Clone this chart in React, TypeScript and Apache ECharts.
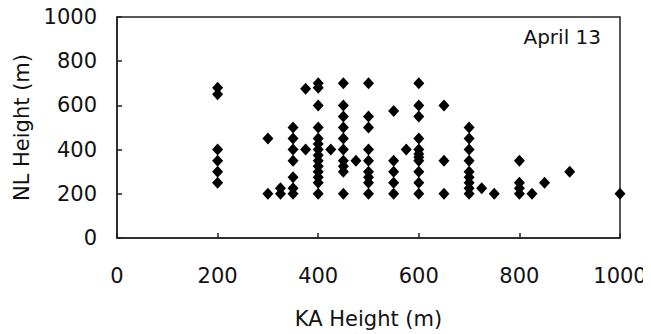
import React, { useEffect, useRef } from "react";
import * as echarts from "echarts";

const xTicks = [0, 200, 400, 600, 800, 1000];
const yTicks = [0, 200, 400, 600, 800, 1000];

// KA height (x) and NL heights (y) observed at that KA height
const kaHeights = [200, 300, 325, 350, 375, 400, 425, 450, 475, 500, 550, 575, 600, 650, 700, 725, 750, 800, 825, 850, 900, 1000];
const nlHeights = [
  [680, 650, 400, 350, 300, 250],
  [450, 200],
  [225, 200],
  [500, 450, 400, 350, 275, 225, 200],
  [675, 400],
  [700, 680, 600, 500, 450, 425, 400, 375, 350, 325, 300, 275, 250, 200],
  [400],
  [700, 600, 550, 500, 450, 400, 350, 325, 300, 200],
  [350],
  [700, 550, 500, 400, 350, 300, 275, 250, 200],
  [575, 350, 300, 250, 200],
  [400],
  [700, 600, 550, 450, 400, 380, 365, 350, 300, 250, 200],
  [600, 350, 200],
  [500, 450, 400, 350, 300, 275, 250, 225, 200],
  [225],
  [200],
  [350, 250, 225, 200],
  [200],
  [250],
  [300],
  [200],
];

const annotation = "April 13";
const xTitle = "KA Height (m)";
const yTitle = "NL Height (m)";

export default function App() {
  const ref = useRef<HTMLDivElement>(null);
  useEffect(() => {
    if (!ref.current) return;
    const chart = echarts.init(ref.current, null, { renderer: "svg" });
    const points: number[][] = [];
    kaHeights.forEach((x, i) => nlHeights[i].forEach((y) => points.push([x, y])));
    const font = "DejaVu Sans";
    chart.setOption({
      animation: false,
      backgroundColor: "#fff",
      textStyle: { fontFamily: font },
      grid: {
        left: 117,
        right: 31,
        top: 17,
        bottom: 96,
        show: true,
        borderColor: "#222",
        borderWidth: 1.5,
        backgroundColor: "transparent",
      },
      xAxis: {
        type: "value",
        min: 0,
        max: 1000,
        interval: 200,
        name: xTitle,
        nameLocation: "middle",
        nameGap: 70,
        nameTextStyle: { fontSize: 21, color: "#111", fontFamily: font },
        axisLine: { show: true, lineStyle: { color: "#222", width: 1.5 } },
        axisTick: { show: true, inside: true, length: 5, lineStyle: { color: "#222", width: 1.5 } },
        axisLabel: {
          fontSize: 21,
          color: "#111",
          margin: 27,
          fontFamily: font,
          formatter: (v: number) => (xTicks.includes(v) ? String(v) : ""),
        },
        splitLine: { show: false },
      },
      yAxis: {
        type: "value",
        min: 0,
        max: 1000,
        interval: 200,
        name: yTitle,
        nameLocation: "middle",
        nameGap: 82,
        nameTextStyle: { fontSize: 21, color: "#111", fontFamily: font },
        axisLine: { show: true, lineStyle: { color: "#222", width: 1.5 } },
        axisTick: { show: true, inside: true, length: 5, lineStyle: { color: "#222", width: 1.5 } },
        axisLabel: {
          fontSize: 21,
          color: "#111",
          margin: 20,
          fontFamily: font,
          formatter: (v: number) => (yTicks.includes(v) ? String(v) : ""),
        },
        splitLine: { show: false },
      },
      graphic: [
        {
          type: "text",
          right: 50,
          top: 27,
          style: { text: annotation, fontSize: 20, fill: "#111", fontFamily: font },
        },
      ],
      series: [
        {
          type: "scatter",
          data: points,
          symbol: "diamond",
          symbolSize: [11, 12],
          itemStyle: { color: "#000", opacity: 1 },
        },
      ],
    });
    return () => chart.dispose();
  }, []);
  return <div ref={ref} style={{ width: 651, height: 334, marginLeft: -8, marginTop: -8 }} />;
}
